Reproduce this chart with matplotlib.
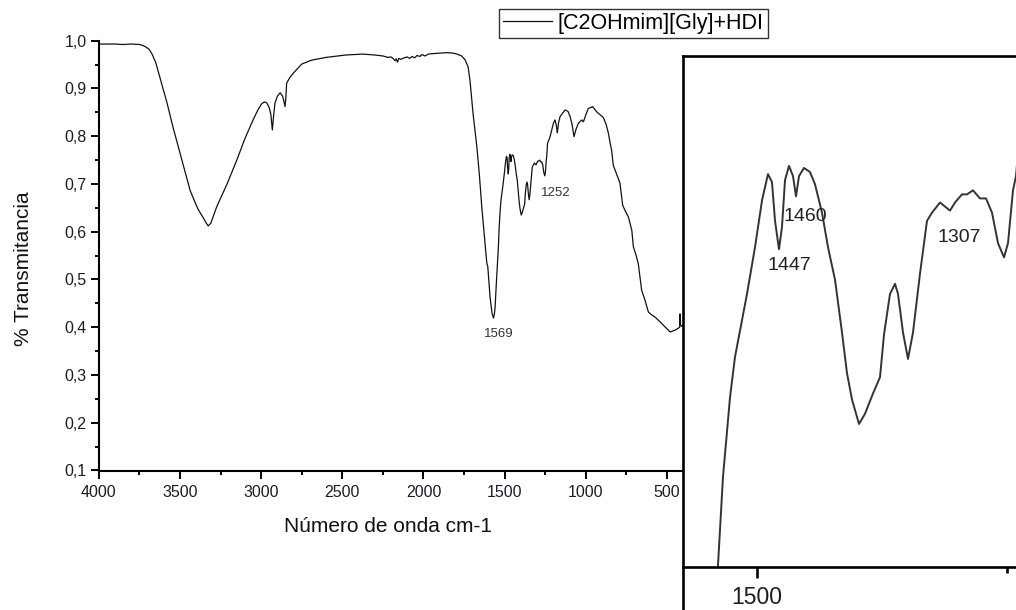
import matplotlib
matplotlib.use('Agg')
import matplotlib.pyplot as plt
from matplotlib.ticker import MultipleLocator, FuncFormatter, NullLocator
from matplotlib.lines import Line2D

plt.rcParams['font.family'] = ['Liberation Sans', 'DejaVu Sans']

# ---------------- data ----------------
wavenumber = [
    4000, 3900, 3850, 3800, 3746, 3715, 3690, 3672, 3650, 3623, 3580, 3543, 3490, 3438,
    3420, 3390, 3358, 3340, 3326, 3310, 3274, 3210, 3150, 3100, 3050, 3020, 2997, 2980,
    2966, 2950, 2940, 2931, 2924, 2915, 2900, 2883, 2868, 2859, 2853, 2848, 2843, 2825,
    2802, 2750, 2700, 2679, 2600, 2576, 2480, 2373, 2300, 2249, 2220, 2200, 2185, 2175,
    2168, 2160, 2152, 2140, 2120, 2100, 2085, 2070, 2055, 2040, 2022, 2010, 1990, 1970,
    1940, 1900, 1855, 1820, 1793, 1765, 1744, 1725, 1713, 1695, 1672, 1656, 1641, 1625,
    1610, 1604, 1590, 1578, 1569, 1563, 1559, 1550,
    1539, 1534, 1527, 1522, 1517, 1510, 1502, 1495, 1489, 1485, 1482, 1478, 1475, 1472,
    1468, 1464, 1461, 1458, 1453, 1447, 1442, 1435, 1429, 1422, 1415, 1410, 1405, 1398,
    1392, 1384, 1377, 1373, 1367, 1362, 1359, 1354, 1349, 1344, 1337, 1330, 1325, 1317,
    1312, 1307, 1302, 1295, 1290, 1284, 1277, 1271, 1265, 1259, 1253, 1249, 1244, 1241,
    1236, 1220, 1200, 1190, 1183, 1176, 1168, 1159, 1128, 1110, 1097, 1085, 1073, 1060,
    1046, 1025, 1015, 1000, 985, 958, 933, 912, 892, 875, 861, 850, 841, 831, 810, 790,
    773, 755, 738, 717, 707, 690, 677, 656, 635, 615, 595, 573, 542, 510, 481, 450, 430,
    422, 420, 417, 410, 399, 390,
]
transmittance = [
    0.993, 0.993, 0.992, 0.993, 0.992, 0.988, 0.982, 0.972, 0.955, 0.922, 0.870, 0.819, 0.752, 0.687,
    0.672, 0.648, 0.630, 0.619, 0.612, 0.618, 0.652, 0.700, 0.750, 0.795, 0.834, 0.855, 0.868, 0.872,
    0.870, 0.860, 0.845, 0.813, 0.840, 0.869, 0.884, 0.891, 0.884, 0.872, 0.862, 0.880, 0.911, 0.922,
    0.932, 0.951, 0.958, 0.960, 0.965, 0.966, 0.970, 0.972, 0.970, 0.968, 0.965, 0.966, 0.962, 0.958,
    0.962, 0.955, 0.963, 0.961, 0.964, 0.966, 0.963, 0.967, 0.964, 0.969, 0.967, 0.971, 0.968, 0.972,
    0.973, 0.974, 0.975, 0.974, 0.972, 0.968, 0.960, 0.945, 0.915, 0.848, 0.780, 0.720, 0.652, 0.590,
    0.534, 0.527, 0.463, 0.430, 0.419, 0.428, 0.442, 0.500,
    0.5656, 0.609, 0.648, 0.668, 0.681, 0.699, 0.722, 0.745, 0.758, 0.754, 0.735, 0.721, 0.732, 0.755,
    0.762, 0.757, 0.747, 0.757, 0.761, 0.759, 0.753, 0.739, 0.722, 0.706, 0.680, 0.660, 0.647, 0.635,
    0.640, 0.650, 0.658, 0.679, 0.699, 0.704, 0.699, 0.680, 0.667, 0.680, 0.709, 0.735, 0.739, 0.744,
    0.742, 0.740, 0.744, 0.748, 0.748, 0.750, 0.746, 0.746, 0.739, 0.724, 0.717, 0.724, 0.750, 0.757,
    0.785, 0.799, 0.827, 0.834, 0.825, 0.807, 0.828, 0.841, 0.855, 0.852, 0.841, 0.825, 0.799, 0.815,
    0.827, 0.834, 0.830, 0.845, 0.858, 0.862, 0.851, 0.845, 0.839, 0.825, 0.806, 0.785, 0.770, 0.739, 0.720, 0.702,
    0.655, 0.642, 0.631, 0.603, 0.568, 0.550, 0.533, 0.477, 0.456, 0.432, 0.426, 0.421, 0.411, 0.400, 0.390, 0.394, 0.398,
    0.400, 0.428, 0.404, 0.402, 0.407, 0.405,
]
series_label = '[C2OHmim][Gly]+HDI'
main_peaks = [(1539, 0.385, '1569'), (1184, 0.681, '1252')]
inset_peaks = [(1452, 0.737, '1460'), (1468, 0.7128, '1447'), (1298, 0.7266, '1307')]

# ---------------- layout helpers ----------------
W, H = 1016, 610
def fx(px):
    return px / W
def fy(py):
    return 1 - py / H

fig = plt.figure(figsize=(W / 100, H / 100), dpi=100)
fig.patch.set_facecolor('white')

# ---------------- main axes ----------------
ax = fig.add_axes([fx(98.8), fy(470.5), fx(686.5) - fx(98.8), fy(40.7) - fy(470.5)])
line, = ax.plot(wavenumber, transmittance, color='#111111', lw=0.9)
ax.set_xlim(4000, 380)
ax.set_ylim(0.1, 1.0)
for s in ('top', 'right'):
    ax.spines[s].set_visible(False)
for s in ('left', 'bottom'):
    ax.spines[s].set_linewidth(1.5)
ax.xaxis.set_major_locator(MultipleLocator(500))
ax.xaxis.set_minor_locator(MultipleLocator(250))
ax.yaxis.set_major_locator(MultipleLocator(0.1))
ax.yaxis.set_minor_locator(MultipleLocator(0.05))
ax.yaxis.set_major_formatter(FuncFormatter(lambda v, p: f"{v:.1f}".replace('.', ',')))
ax.tick_params(which='major', direction='out', length=5.8, width=1.4, labelsize=11.5,
               labelcolor='#1c1c28')
ax.tick_params(which='minor', direction='out', length=3.2, width=1.4)
ax.tick_params(axis='x', which='major', pad=4.5)
ax.tick_params(axis='y', which='major', pad=3)

ax.set_xlabel('Número de onda cm-1', fontsize=15, color='#111111')
ax.xaxis.set_label_coords((388 - 98.8) / 587.7, -(517 - 470.5) / 429.8)
ax.set_ylabel('% Transmitancia', fontsize=15, color='#111111')
ax.yaxis.set_label_coords((33 - 98.8) / 587.7, 1 - (269 - 40.7) / 429.8)

for x, y, t in main_peaks:
    ax.text(x, y, t, fontsize=9.5, ha='center', va='center', color='#333333')

leg = fig.legend(handles=[line], labels=[series_label], loc='upper left',
                 bbox_to_anchor=(fx(498.5), fy(8.5)), frameon=True, fancybox=False,
                 edgecolor='#333333', framealpha=1, fontsize=15.5, handlelength=2.3,
                 handletextpad=0.25, borderpad=0.2, borderaxespad=0)
leg.get_frame().set_linewidth(1.0)

# ---------------- inset (zoomed view) ----------------
iax = fig.add_axes([fx(683), fy(567), fx(1116) - fx(683), fy(56) - fy(567)])
iax.set_zorder(5)
iax.set_facecolor('white')
iax.plot(wavenumber, transmittance, color='#333333', lw=1.4)
iax.set_xlim(1574, 1141)
iax.set_ylim(0.5646, 0.8161)
iax.spines['right'].set_visible(False)
for s in ('left', 'top', 'bottom'):
    iax.spines[s].set_linewidth(1.9)
iax.xaxis.set_major_locator(MultipleLocator(500))
iax.xaxis.set_minor_locator(MultipleLocator(250))
iax.yaxis.set_major_locator(NullLocator())
iax.yaxis.set_minor_locator(NullLocator())
iax.tick_params(axis='x', which='major', direction='out', length=8, width=1.9,
                labelsize=16.5, pad=6, labelcolor='#1c1c28')
iax.tick_params(axis='x', which='minor', direction='out', length=4.5, width=1.9)
for x, y, t in inset_peaks:
    iax.text(x, y, t, fontsize=14, ha='center', va='center', color='#222222')

# frame edge continuing below the inset axis
fig.add_artist(Line2D([fx(683), fx(683)], [0, fy(567)], color='black', lw=1.9, zorder=6))

fig.savefig('out.png', dpi=100, facecolor='white')
